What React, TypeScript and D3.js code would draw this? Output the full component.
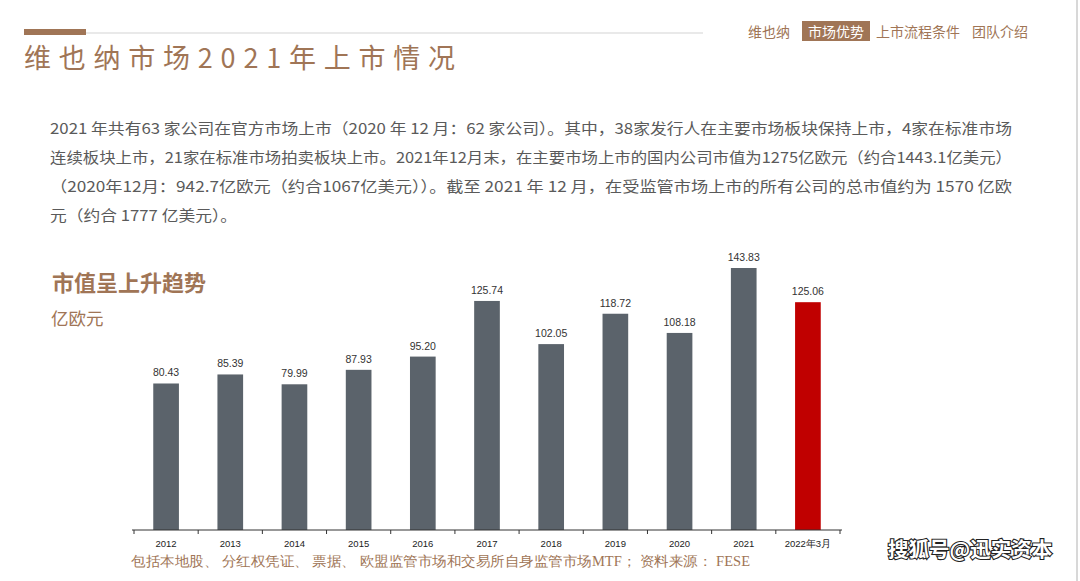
import React from 'react';
import * as d3 from 'd3';

const years = ['2012', '2013', '2014', '2015', '2016', '2017', '2018', '2019', '2020', '2021', '2022年3月'];
const marketValues = [80.43, 85.39, 79.99, 87.93, 95.2, 125.74, 102.05, 118.72, 108.18, 143.83, 125.06];
const navItems = ['维也纳', '市场优势', '上市流程条件', '团队介绍'];
const paragraphLines = [
  '2021 年共有63 家公司在官方市场上市（2020 年 12 月：62 家公司）。其中，38家发行人在主要市场板块保持上市，4家在标准市场',
  '连续板块上市，21家在标准市场拍卖板块上市。2021年12月末，在主要市场上市的国内公司市值为1275亿欧元（约合1443.1亿美元）',
  '（2020年12月：942.7亿欧元（约合1067亿美元））。截至 2021 年 12 月，在受监管市场上市的所有公司的总市值约为 1570 亿欧',
  '元（约合 1777 亿美元）。',
];
const paragraphWidths = [962, 962, 962, 187];

const BROWN = '#a07556';
const serif = '"Noto Sans CJK SC", serif';

const App: React.FC = () => {
  const width = 1080;
  const height = 581;

  const x = d3.scaleBand<string>().domain(years).range([134, 840]).paddingInner(0.6).paddingOuter(0.3);
  const y = d3.scaleLinear().domain([0, 143.83]).range([530, 268]);
  const step = x.step();
  const tickXs = d3.range(years.length + 1).map(i => 134 + i * step);

  return (
    <svg width={width} height={height} style={{ position: 'absolute', left: 0, top: 0, background: '#fff' }}>
      <rect x={0} y={0} width={width} height={height} fill="#fff" />
      <line x1={1077} x2={1077} y1={0} y2={height} stroke="#d8d8d8" strokeWidth={2} />

      {/* header */}
      <line x1={86} x2={703} y1={33} y2={33} stroke="#e2e2e2" strokeWidth={1.5} />
      <rect x={24} y={29} width={62} height={6} fill={BROWN} />
      <text x={24} y={68} fill={BROWN} fontFamily={serif} fontSize={27} textLength={431} lengthAdjust="spacing">
        维也纳市场2021年上市情况
      </text>

      {/* nav */}
      <rect x={802} y={21} width={68} height={20} fill={BROWN} />
      <text x={748} y={37} fill={BROWN} fontFamily={serif} fontSize={14}>{navItems[0]}</text>
      <text x={808} y={37} fill="#fff" fontFamily={serif} fontSize={14}>{navItems[1]}</text>
      <text x={876} y={37} fill={BROWN} fontFamily={serif} fontSize={14}>{navItems[2]}</text>
      <text x={972} y={37} fill={BROWN} fontFamily={serif} fontSize={14}>{navItems[3]}</text>

      {/* paragraph */}
      {paragraphLines.map((line, i) => (
        <text key={i} x={50} y={134 + i * 29} fill="#5a5a5a" fontFamily={serif} fontSize={15.2}
          textLength={paragraphWidths[i]} lengthAdjust="spacingAndGlyphs">
          {line}
        </text>
      ))}

      {/* chart titles */}
      <text x={52} y={291} fill={BROWN} fontFamily={serif} fontSize={22} fontWeight="bold">市值呈上升趋势</text>
      <text x={51} y={325} fill={BROWN} fontFamily={serif} fontSize={17.5}>亿欧元</text>

      {/* bars */}
      {years.map((yr, i) => (
        <g key={yr}>
          <rect
            x={x(yr)}
            y={y(marketValues[i])}
            width={x.bandwidth()}
            height={530 - y(marketValues[i])}
            fill={i === years.length - 1 ? '#c00000' : '#5b636b'}
          />
          <text
            x={(x(yr) ?? 0) + x.bandwidth() / 2}
            y={y(marketValues[i]) - 7}
            textAnchor="middle"
            fontFamily="'Liberation Sans', Arial, sans-serif"
            fontSize={10.5}
            fill="#333"
          >
            {marketValues[i].toFixed(2)}
          </text>
          <text
            x={(x(yr) ?? 0) + x.bandwidth() / 2}
            y={547}
            textAnchor="middle"
            fontFamily="'Liberation Sans', Arial, sans-serif"
            fontSize={9.5}
            fill="#222"
          >
            {yr}
          </text>
        </g>
      ))}

      {/* axis */}
      <line x1={132} x2={842} y1={530} y2={530} stroke="#333" strokeWidth={1} />
      {tickXs.map((tx, i) => (
        <line key={i} x1={tx} x2={tx} y1={530} y2={534} stroke="#333" strokeWidth={1} />
      ))}

      {/* footnote */}
      <text x={131} y={566} fill={BROWN} fontFamily="'Liberation Serif', serif" fontSize={14}
        textLength={619} lengthAdjust="spacingAndGlyphs">
        包括本地股、 分红权凭证、 票据、 欧盟监管市场和交易所自身监管市场MTF； 资料来源： FESE
      </text>

      {/* watermark */}
      <text x={888} y={557} fill="#fff" stroke="#222" strokeWidth={2.2} paintOrder="stroke"
        fontFamily={serif} fontSize={20.5} fontWeight="bold">
        搜狐号@迅实资本
      </text>
    </svg>
  );
};

export default App;
